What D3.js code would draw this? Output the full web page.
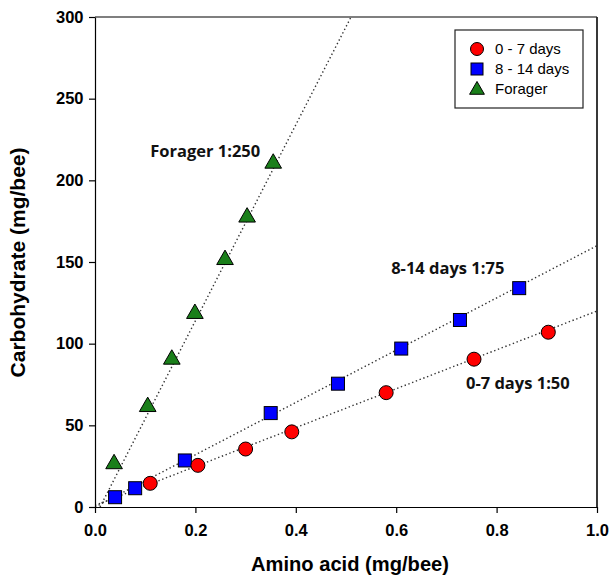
<!DOCTYPE html>
<html><head><meta charset="utf-8">
<script src="https://cdn.jsdelivr.net/npm/d3@7"></script>
<style>body{margin:0;background:#fff;}svg{display:block;}</style>
</head><body>
<svg id="c" width="609" height="579"></svg>
<script>
const xTicks = [0, 0.2, 0.4, 0.6, 0.8, 1.0];
const yTicks = [0, 50, 100, 150, 200, 250, 300];
const seriesNames = ["0 - 7 days", "8 - 14 days", "Forager"];
const young = [[0.11,14.5],[0.205,25.5],[0.30,35.5],[0.392,46],[0.58,70],[0.755,90.5],[0.903,107]];
const mid = [[0.04,6],[0.08,11.5],[0.179,28.5],[0.35,57.5],[0.484,75.5],[0.61,97],[0.727,114.5],[0.845,134]];
const forager = [[0.038,27],[0.105,62],[0.153,91],[0.199,119],[0.259,152],[0.303,178],[0.355,211]];
const youngLine = [[0.0,1],[1.0,120]];
const midLine = [[0.0,0],[1.0,160]];
const foragerLine = [[0.01,0],[0.51,300]];
const labelText = ["Forager 1:250", "8-14 days 1:75", "0-7 days 1:50"];
const labelX = [0.11, 0.59, 0.739];
const labelY = [214, 142.5, 72];

const svg = d3.select("#c");
const L=95,R=597,T=17,B=507;
const x = d3.scaleLinear().domain([0,1]).range([L,R]);
const y = d3.scaleLinear().domain([0,300]).range([B,T]);
const FONT = "Liberation Sans, Arial, sans-serif";

const line = d3.line().x(d=>x(d[0])).y(d=>y(d[1]));
svg.append("defs").append("clipPath").attr("id","cp").append("rect").attr("x",L).attr("y",T).attr("width",R-L).attr("height",B-T);
[youngLine, midLine, foragerLine].forEach(l=>{
  svg.append("path").attr("d",line(l)).attr("clip-path","url(#cp)")
    .attr("fill","none").attr("stroke","#333").attr("stroke-width",1.4).attr("stroke-dasharray","1.4,2.6");
});

const xa = svg.append("g").attr("transform",`translate(0,${B})`).call(d3.axisBottom(x).tickValues(xTicks).tickFormat(d3.format(".1f")).tickSize(6).tickSizeOuter(0));
const ya = svg.append("g").attr("transform",`translate(${L},0)`).call(d3.axisLeft(y).tickValues(yTicks).tickSize(6).tickSizeOuter(0));
[xa,ya].forEach(a=>{
  a.selectAll("path,line").attr("stroke","#000").attr("stroke-width",1.2);
  a.selectAll("text").attr("font-family",FONT).attr("font-weight","bold").attr("font-size",16.5).attr("fill","#000");
});
xa.selectAll("text").attr("y",17);
ya.selectAll("text").attr("dx","-0.15em");
svg.append("line").attr("x1",L).attr("x2",R).attr("y1",T).attr("y2",T).attr("stroke","#000").attr("stroke-width",1.2);
svg.append("line").attr("x1",R).attr("x2",R).attr("y1",T).attr("y2",B).attr("stroke","#222").attr("stroke-width",1.8);

svg.append("text").attr("x",350).attr("y",571).attr("text-anchor","middle")
  .attr("font-family",FONT).attr("font-weight","bold").attr("font-size",19.5)
  .attr("textLength",198).attr("lengthAdjust","spacingAndGlyphs").text("Amino acid (mg/bee)");
svg.append("text").attr("transform","translate(25,262.5) rotate(-90)").attr("text-anchor","middle")
  .attr("font-family",FONT).attr("font-weight","bold").attr("font-size",19.5)
  .attr("textLength",230).attr("lengthAdjust","spacingAndGlyphs").text("Carbohydrate (mg/bee)");

const tri = d3.symbol().type(d3.symbolTriangle).size(120);
svg.append("g").selectAll("path").data(forager).join("path")
  .attr("d",tri).attr("transform",d=>`translate(${x(d[0])},${y(d[1])+1})`)
  .attr("fill","#1a7f1a").attr("stroke","#000").attr("stroke-width",1);
svg.append("g").selectAll("rect").data(mid).join("rect")
  .attr("x",d=>x(d[0])-6.5).attr("y",d=>y(d[1])-6.5).attr("width",13).attr("height",13)
  .attr("fill","#0000ff").attr("stroke","#000").attr("stroke-width",1);
svg.append("g").selectAll("circle").data(young).join("circle")
  .attr("cx",d=>x(d[0])).attr("cy",d=>y(d[1])).attr("r",7)
  .attr("fill","#ff0000").attr("stroke","#000").attr("stroke-width",1);

svg.append("g").selectAll("text").data(labelText).join("text")
  .attr("x",(d,i)=>x(labelX[i])).attr("y",(d,i)=>y(labelY[i])).attr("font-family","Open Sans, Lato, sans-serif")
  .attr("font-weight","bold").attr("font-size",16.5).attr("fill","#111").text(d=>d);

const lg = svg.append("g");
lg.append("rect").attr("x",455).attr("y",30).attr("width",128).attr("height",78).attr("fill","#fff").attr("stroke","#222").attr("stroke-width",1.2);
const ly = [49,69,89];
lg.append("circle").attr("cx",477).attr("cy",ly[0]).attr("r",6.5).attr("fill","#ff0000").attr("stroke","#000");
lg.append("rect").attr("x",471).attr("y",ly[1]-6).attr("width",12).attr("height",12).attr("fill","#0000ff").attr("stroke","#000");
lg.append("path").attr("d",d3.symbol().type(d3.symbolTriangle).size(95)).attr("transform",`translate(477,${ly[2]+1})`).attr("fill","#1a7f1a").attr("stroke","#000");
seriesNames.forEach((n,i)=>{
  lg.append("text").attr("x",495).attr("y",ly[i]+5).attr("font-family",FONT).attr("font-size",15).attr("fill","#000").text(n);
});
</script>
</body></html>
